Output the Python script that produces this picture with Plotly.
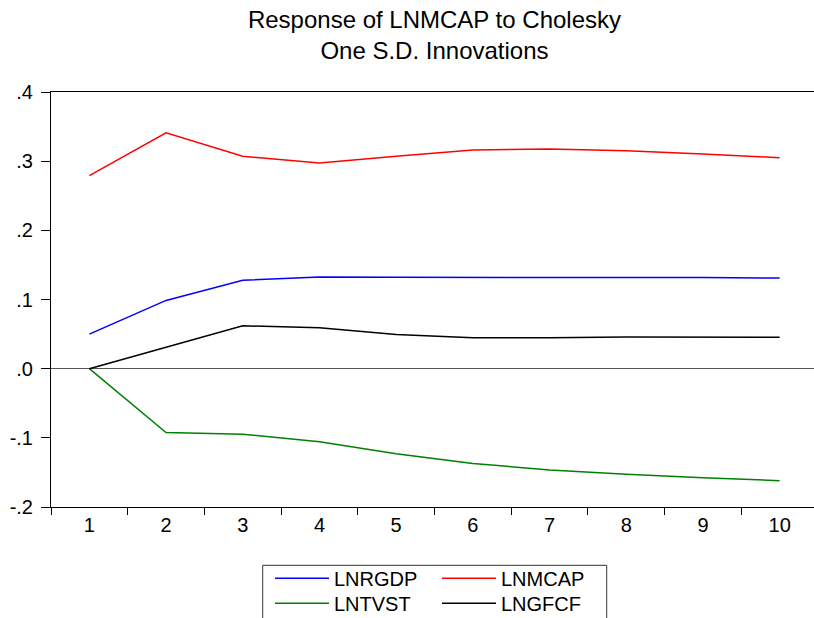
import plotly.graph_objects as go

periods = ["1", "2", "3", "4", "5", "6", "7", "8", "9", "10"]
lnrgdp = [0.050, 0.0987, 0.1277, 0.1325, 0.1320, 0.1320, 0.1322, 0.1320, 0.1318, 0.1310]
lnmcap = [0.279, 0.341, 0.307, 0.2975, 0.3070, 0.3160, 0.3175, 0.3150, 0.3105, 0.3050]
lntvst = [0.000, -0.0924, -0.0948, -0.1055, -0.1230, -0.1370, -0.1465, -0.1527, -0.1576, -0.1620]
lngfcf = [0.000, 0.0307, 0.0620, 0.0590, 0.0495, 0.0446, 0.0446, 0.0458, 0.0458, 0.0455]

ytick_vals = [-0.2, -0.1, 0.0, 0.1, 0.2, 0.3, 0.4]
ytick_text = ["-.2", "-.1", ".0", ".1", ".2", ".3", ".4"]

FONT = "Liberation Sans, Arial, sans-serif"

fig = go.Figure()
series = [
    ("LNRGDP", lnrgdp, "#0000FF", "legend"),
    ("LNMCAP", lnmcap, "#FF0000", "legend"),
    ("LNTVST", lntvst, "#008000", "legend2"),
    ("LNGFCF", lngfcf, "#000000", "legend2"),
]
for name, vals, col, lg in series:
    fig.add_trace(go.Scatter(x=periods, y=vals, mode="lines", name=name,
                             line=dict(color=col, width=1.5), legend=lg))

leg_common = dict(orientation="h", font=dict(family=FONT, size=20, color="#000"),
                  bgcolor="rgba(0,0,0,0)", borderwidth=0, itemwidth=54,
                  entrywidth=98, entrywidthmode="pixels",
                  xanchor="left", yanchor="middle", tracegroupgap=0)

fig.update_layout(
    width=814, height=618,
    margin=dict(l=51, r=0, t=92, b=111, autoexpand=False),
    paper_bgcolor="white", plot_bgcolor="white",
    font=dict(family=FONT, color="#000"),
    title=dict(text="Response of LNMCAP to Cholesky<br>One S.D. Innovations",
               x=0.5026, xref="paper", xanchor="center",
               y=1 - 28 / 618, yref="container", yanchor="top",
               font=dict(family=FONT, size=24, color="#000")),
    legend=dict(x=(270 - 51) / 763, y=(506.7 - 578) / 415, **leg_common),
    legend2=dict(x=(270 - 51) / 763, y=(506.7 - 603) / 415, **leg_common),
    xaxis=dict(type="category", range=[-0.5, 9.448], tickson="boundaries",
               ticks="outside", ticklen=7, tickcolor="#000", tickwidth=1,
               showline=True, linecolor="#000", linewidth=1, mirror=True,
               showgrid=False, zeroline=False,
               tickfont=dict(family=FONT, size=20, color="#000")),
    yaxis=dict(range=[-0.2, 0.4], tickvals=ytick_vals, ticktext=ytick_text,
               ticks="outside", ticklen=9, tickcolor="#000", tickwidth=1,
               showline=True, linecolor="#000", linewidth=1, mirror=False,
               showgrid=False, zeroline=True, zerolinecolor="#555", zerolinewidth=1,
               ticklabelstandoff=4,
               tickfont=dict(family=FONT, size=20, color="#000")),
    shapes=[dict(type="rect", xref="paper", yref="paper",
                 x0=(262.7 - 51) / 763, x1=(606.7 - 51) / 763,
                 y0=(506.7 - 625) / 415, y1=(506.7 - 565) / 415,
                 line=dict(color="#333", width=1), fillcolor="rgba(0,0,0,0)")],
)

fig.write_html("out.html", config={"displayModeBar": False},
               post_script="document.body.style.margin='0';")
